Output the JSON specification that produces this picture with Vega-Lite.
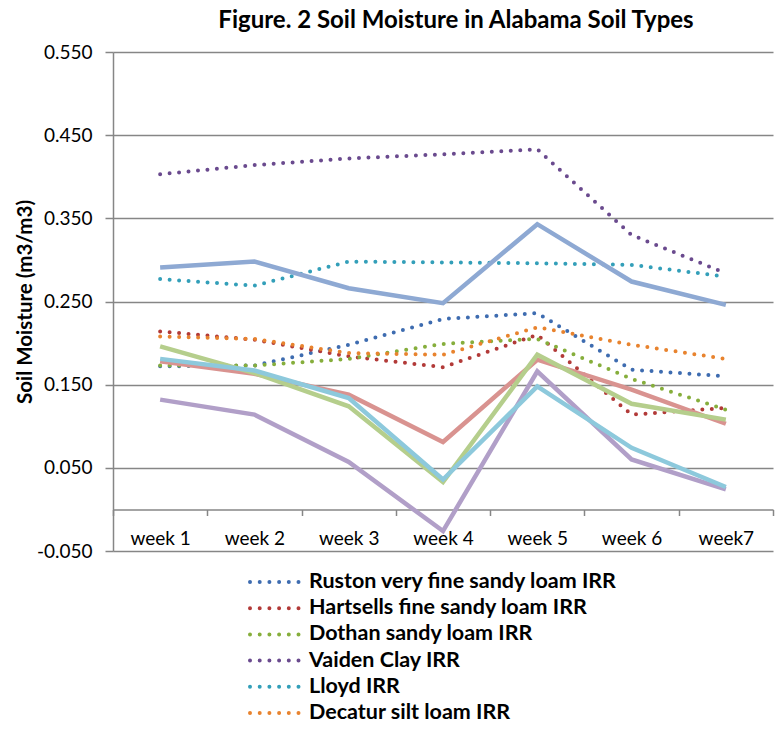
{
  "$schema": "https://vega.github.io/schema/vega-lite/v6.json",
  "width": 660,
  "height": 499,
  "autosize": {"type": "none"},
  "padding": {"left": 113, "top": 52, "right": 10, "bottom": 178},
  "background": "white",
  "title": {
    "text": "Figure. 2 Soil Moisture in Alabama Soil Types",
    "font": "Lato",
    "fontSize": 24,
    "fontWeight": "bold",
    "color": "#000000",
    "anchor": "middle",
    "dx": 13,
    "offset": 10
  },
  "datasets": {
    "irr": [
      {"week": "week 1", "soil": "Ruston very fine sandy loam IRR", "moisture": 0.172},
      {"week": "week 2", "soil": "Ruston very fine sandy loam IRR", "moisture": 0.173},
      {"week": "week 3", "soil": "Ruston very fine sandy loam IRR", "moisture": 0.198},
      {"week": "week 4", "soil": "Ruston very fine sandy loam IRR", "moisture": 0.229},
      {"week": "week 5", "soil": "Ruston very fine sandy loam IRR", "moisture": 0.236},
      {"week": "week 6", "soil": "Ruston very fine sandy loam IRR", "moisture": 0.168},
      {"week": "week7", "soil": "Ruston very fine sandy loam IRR", "moisture": 0.160},
      {"week": "week 1", "soil": "Hartsells fine sandy loam IRR", "moisture": 0.214},
      {"week": "week 2", "soil": "Hartsells fine sandy loam IRR", "moisture": 0.204},
      {"week": "week 3", "soil": "Hartsells fine sandy loam IRR", "moisture": 0.184},
      {"week": "week 4", "soil": "Hartsells fine sandy loam IRR", "moisture": 0.171},
      {"week": "week 5", "soil": "Hartsells fine sandy loam IRR", "moisture": 0.210},
      {"week": "week 6", "soil": "Hartsells fine sandy loam IRR", "moisture": 0.114},
      {"week": "week7", "soil": "Hartsells fine sandy loam IRR", "moisture": 0.122},
      {"week": "week 1", "soil": "Dothan sandy loam IRR", "moisture": 0.173},
      {"week": "week 2", "soil": "Dothan sandy loam IRR", "moisture": 0.173},
      {"week": "week 3", "soil": "Dothan sandy loam IRR", "moisture": 0.181},
      {"week": "week 4", "soil": "Dothan sandy loam IRR", "moisture": 0.199},
      {"week": "week 5", "soil": "Dothan sandy loam IRR", "moisture": 0.205},
      {"week": "week 6", "soil": "Dothan sandy loam IRR", "moisture": 0.157},
      {"week": "week7", "soil": "Dothan sandy loam IRR", "moisture": 0.120},
      {"week": "week 1", "soil": "Vaiden Clay IRR", "moisture": 0.403},
      {"week": "week 2", "soil": "Vaiden Clay IRR", "moisture": 0.414},
      {"week": "week 3", "soil": "Vaiden Clay IRR", "moisture": 0.422},
      {"week": "week 4", "soil": "Vaiden Clay IRR", "moisture": 0.427},
      {"week": "week 5", "soil": "Vaiden Clay IRR", "moisture": 0.433},
      {"week": "week 6", "soil": "Vaiden Clay IRR", "moisture": 0.330},
      {"week": "week7", "soil": "Vaiden Clay IRR", "moisture": 0.284},
      {"week": "week 1", "soil": "Lloyd IRR", "moisture": 0.277},
      {"week": "week 2", "soil": "Lloyd IRR", "moisture": 0.269},
      {"week": "week 3", "soil": "Lloyd IRR", "moisture": 0.298},
      {"week": "week 4", "soil": "Lloyd IRR", "moisture": 0.297},
      {"week": "week 5", "soil": "Lloyd IRR", "moisture": 0.296},
      {"week": "week 6", "soil": "Lloyd IRR", "moisture": 0.294},
      {"week": "week7", "soil": "Lloyd IRR", "moisture": 0.280},
      {"week": "week 1", "soil": "Decatur silt loam IRR", "moisture": 0.208},
      {"week": "week 2", "soil": "Decatur silt loam IRR", "moisture": 0.205},
      {"week": "week 3", "soil": "Decatur silt loam IRR", "moisture": 0.188},
      {"week": "week 4", "soil": "Decatur silt loam IRR", "moisture": 0.186},
      {"week": "week 5", "soil": "Decatur silt loam IRR", "moisture": 0.219},
      {"week": "week 6", "soil": "Decatur silt loam IRR", "moisture": 0.198},
      {"week": "week7", "soil": "Decatur silt loam IRR", "moisture": 0.181}
    ],
    "non": [
      {"week": "week 1", "soil": "Ruston very fine sandy loam", "moisture": 0.291},
      {"week": "week 2", "soil": "Ruston very fine sandy loam", "moisture": 0.298},
      {"week": "week 3", "soil": "Ruston very fine sandy loam", "moisture": 0.266},
      {"week": "week 4", "soil": "Ruston very fine sandy loam", "moisture": 0.248},
      {"week": "week 5", "soil": "Ruston very fine sandy loam", "moisture": 0.343},
      {"week": "week 6", "soil": "Ruston very fine sandy loam", "moisture": 0.274},
      {"week": "week7", "soil": "Ruston very fine sandy loam", "moisture": 0.246},
      {"week": "week 1", "soil": "Hartsells fine sandy loam", "moisture": 0.178},
      {"week": "week 2", "soil": "Hartsells fine sandy loam", "moisture": 0.163},
      {"week": "week 3", "soil": "Hartsells fine sandy loam", "moisture": 0.138},
      {"week": "week 4", "soil": "Hartsells fine sandy loam", "moisture": 0.081},
      {"week": "week 5", "soil": "Hartsells fine sandy loam", "moisture": 0.180},
      {"week": "week 6", "soil": "Hartsells fine sandy loam", "moisture": 0.144},
      {"week": "week7", "soil": "Hartsells fine sandy loam", "moisture": 0.103},
      {"week": "week 1", "soil": "Dothan sandy loam", "moisture": 0.196},
      {"week": "week 2", "soil": "Dothan sandy loam", "moisture": 0.164},
      {"week": "week 3", "soil": "Dothan sandy loam", "moisture": 0.124},
      {"week": "week 4", "soil": "Dothan sandy loam", "moisture": 0.033},
      {"week": "week 5", "soil": "Dothan sandy loam", "moisture": 0.186},
      {"week": "week 6", "soil": "Dothan sandy loam", "moisture": 0.127},
      {"week": "week7", "soil": "Dothan sandy loam", "moisture": 0.108},
      {"week": "week 1", "soil": "Vaiden Clay", "moisture": 0.132},
      {"week": "week 2", "soil": "Vaiden Clay", "moisture": 0.114},
      {"week": "week 3", "soil": "Vaiden Clay", "moisture": 0.057},
      {"week": "week 4", "soil": "Vaiden Clay", "moisture": -0.026},
      {"week": "week 5", "soil": "Vaiden Clay", "moisture": 0.166},
      {"week": "week 6", "soil": "Vaiden Clay", "moisture": 0.060},
      {"week": "week7", "soil": "Vaiden Clay", "moisture": 0.024},
      {"week": "week 1", "soil": "Lloyd", "moisture": 0.181},
      {"week": "week 2", "soil": "Lloyd", "moisture": 0.167},
      {"week": "week 3", "soil": "Lloyd", "moisture": 0.134},
      {"week": "week 4", "soil": "Lloyd", "moisture": 0.036},
      {"week": "week 5", "soil": "Lloyd", "moisture": 0.148},
      {"week": "week 6", "soil": "Lloyd", "moisture": 0.074},
      {"week": "week7", "soil": "Lloyd", "moisture": 0.027}
    ]
  },
  "encoding": {
    "x": {
      "field": "week",
      "type": "nominal",
      "sort": ["week 1", "week 2", "week 3", "week 4", "week 5", "week 6", "week7"],
      "bandPosition": 0.5,
      "scale": {"type": "band", "paddingInner": 0, "paddingOuter": 0},
      "axis": {
        "title": null,
        "orient": "bottom",
        "offset": -41.5,
        "tickBand": "extent",
        "labelAngle": 0,
        "labelFont": "Lato",
        "labelFontSize": 19,
        "labelColor": "#000000",
        "labelPadding": 14,
        "domainColor": "#868686",
        "domainWidth": 1.5,
        "tickColor": "#868686",
        "tickWidth": 1.5,
        "tickSize": 6,
        "grid": false
      }
    },
    "y": {
      "field": "moisture",
      "type": "quantitative",
      "scale": {"domain": [-0.05, 0.55], "nice": false, "zero": false},
      "axis": {
        "values": [-0.05, 0.05, 0.15, 0.25, 0.35, 0.45, 0.55],
        "labelExpr": "replace(format(datum.value, '.3f'), '\u2212', '-')",
        "title": "Soil Moisture (m3/m3)",
        "titleFont": "Lato",
        "titleFontSize": 20.5,
        "titleFontWeight": "bold",
        "titleColor": "#000000",
        "titlePadding": 1,
        "labelFont": "Lato",
        "labelFontSize": 19,
        "labelColor": "#000000",
        "labelPadding": 13,
        "tickSize": 8,
        "tickColor": "#868686",
        "tickWidth": 1.5,
        "domainColor": "#868686",
        "domainWidth": 1.5,
        "grid": true,
        "gridColor": "#868686",
        "gridWidth": 1.5
      }
    }
  },
  "layer": [
    {
      "data": {"name": "irr"},
      "mark": {"type": "line", "strokeWidth": 4, "strokeDash": [0, 9.5], "strokeCap": "round"},
      "encoding": {
        "color": {
          "field": "soil",
          "type": "nominal",
          "scale": {
            "domain": ["Ruston very fine sandy loam IRR", "Hartsells fine sandy loam IRR", "Dothan sandy loam IRR", "Vaiden Clay IRR", "Lloyd IRR", "Decatur silt loam IRR"],
            "range": ["#3E6CB0", "#B23A38", "#86AE3C", "#6A4A8E", "#339FB9", "#E8832E"]
          },
          "legend": {
            "title": null,
            "orient": "none",
            "legendX": 135,
            "legendY": 520,
            "direction": "vertical",
            "symbolType": "stroke",
            "symbolStrokeWidth": 4,
            "symbolDash": [0, 9.7],
            "symbolSize": 2500,
            "clipHeight": 20,
            "labelFont": "Lato",
            "labelFontSize": 21.5,
            "labelFontWeight": "bold",
            "labelColor": "#000000",
            "labelLimit": 500,
            "labelOffset": 7,
            "rowPadding": 4.2,
            "padding": 0,
            "encode": {
              "symbols": {"update": {"strokeCap": {"value": "round"}, "strokeDash": {"value": [0, 9.7]}}}
            }
          }
        }
      }
    },
    {
      "data": {"name": "non"},
      "mark": {"type": "line", "strokeWidth": 4.5},
      "encoding": {
        "color": {
          "field": "soil",
          "type": "nominal",
          "scale": {
            "domain": ["Ruston very fine sandy loam", "Hartsells fine sandy loam", "Dothan sandy loam", "Vaiden Clay", "Lloyd"],
            "range": ["#8EA9D3", "#D99390", "#B5CE8C", "#B19FC8", "#8DC9DC"]
          },
          "legend": null
        }
      }
    }
  ],
  "resolve": {"scale": {"color": "independent"}},
  "config": {
    "view": {"stroke": null}
  }
}
